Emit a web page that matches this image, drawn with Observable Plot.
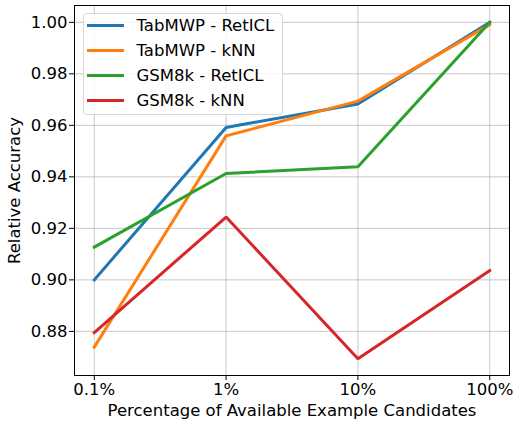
<!DOCTYPE html>
<html>
<head>
<meta charset="utf-8">
<script src="https://cdn.jsdelivr.net/npm/d3@7"></script>
<script src="https://cdn.jsdelivr.net/npm/@observablehq/plot@0.6"></script>
<style>
  html, body { margin: 0; padding: 0; background: #fff; }
  #chart { width: 514px; height: 421px; position: relative; }
  #chart svg text { font-family: "DejaVu Sans", sans-serif; font-size: 16.5px; }
</style>
</head>
<body>
<div id="chart"></div>
<script>
const percentages = [0.1, 1, 10, 100];
const tickLabels = ["0.1%", "1%", "10%", "100%"];
const seriesNames = ["TabMWP - RetICL", "TabMWP - kNN", "GSM8k - RetICL", "GSM8k - kNN"];
const seriesColors = ["#1f77b4", "#ff7f0e", "#2ca02c", "#d62728"];
const tabmwpRetICL = [0.9000, 0.9592, 0.9683, 1.0000];
const tabmwpKNN    = [0.8739, 0.9559, 0.9694, 0.9991];
const gsm8kRetICL  = [0.9127, 0.9413, 0.9439, 1.0000];
const gsm8kKNN     = [0.8795, 0.9244, 0.8694, 0.9036];
const yTicks = [0.88, 0.90, 0.92, 0.94, 0.96, 0.98, 1.00];

const allSeries = [tabmwpRetICL, tabmwpKNN, gsm8kRetICL, gsm8kKNN];
const rows = [];
allSeries.forEach((vals, i) => vals.forEach((v, j) => rows.push({series: seriesNames[i], x: percentages[j], y: v})));

// matplotlib-style 5% margins
const allY = allSeries.flat();
const yMin = d3.min(allY), yMax = d3.max(allY);
const yPad = (yMax - yMin) * 0.05;
const lx0 = Math.log10(d3.min(percentages)), lx1 = Math.log10(d3.max(percentages));
const xPad = (lx1 - lx0) * 0.05;

const font = "DejaVu Sans, sans-serif";
const fs = 16.5;

const plot = Plot.plot({
  width: 514,
  height: 421,
  marginLeft: 74,
  marginRight: 5,
  marginTop: 5,
  marginBottom: 46,
  style: {fontFamily: font, fontSize: fs + "px", color: "#000", background: "#fff"},
  x: {type: "log", domain: [10 ** (lx0 - xPad), 10 ** (lx1 + xPad)]},
  y: {domain: [yMin - yPad, yMax + yPad]},
  color: {domain: seriesNames, range: seriesColors},
  marks: [
    Plot.gridX(percentages, {stroke: "#b0b0b0", strokeOpacity: 0.7, strokeWidth: 1}),
    Plot.gridY(yTicks, {stroke: "#b0b0b0", strokeOpacity: 0.7, strokeWidth: 1}),
    Plot.axisX(percentages, {tickFormat: (d) => tickLabels[percentages.indexOf(d)], tickSize: 5, tickPadding: 3,
      fontSize: fs, label: "Percentage of Available Example Candidates", labelAnchor: "center", labelArrow: "none", labelOffset: 40}),
    Plot.axisY(yTicks, {tickFormat: d3.format(".2f"), tickSize: 5, tickPadding: 2,
      fontSize: fs, label: "Relative Accuracy", labelAnchor: "center", labelArrow: "none", labelOffset: 66}),
    Plot.line(rows, {x: "x", y: "y", z: "series", stroke: "series", strokeWidth: 3, strokeLinejoin: "miter", strokeLinecap: "square"}),
    Plot.frame({stroke: "#000", strokeWidth: 1})
  ]
});

document.getElementById("chart").appendChild(plot);

// Legend drawn into the SVG, upper-left inside the frame
const svg = d3.select(plot);
const colorScale = plot.scale("color");
const lg = svg.append("g").attr("transform", "translate(83,13)").attr("text-anchor", "start");
lg.append("rect").attr("x", 0.5).attr("y", 0.5).attr("width", 199).attr("height", 101).attr("rx", 3)
  .attr("fill", "#fff").attr("fill-opacity", 0.8).attr("stroke", "#d6d6d6");
seriesNames.forEach((name, i) => {
  const cy = 12.5 + i * 25;
  lg.append("line").attr("x1", 4).attr("x2", 41).attr("y1", cy).attr("y2", cy)
    .attr("stroke", colorScale.apply(name)).attr("stroke-width", 3);
  lg.append("text").attr("x", 53.5).attr("y", cy).attr("dy", "0.35em").attr("text-anchor", "start").attr("fill", "#000").text(name);
});
</script>
</body>
</html>
